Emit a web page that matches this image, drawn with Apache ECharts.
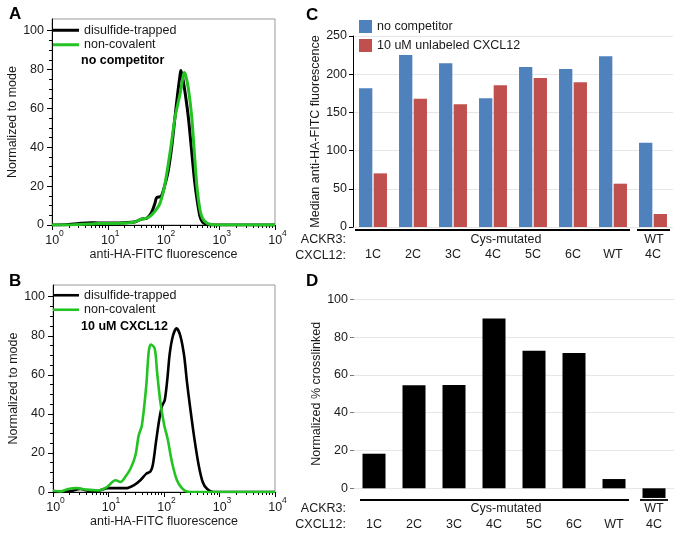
<!DOCTYPE html>
<html><head><meta charset="utf-8">
<script src="https://cdn.jsdelivr.net/npm/echarts@6/dist/echarts.min.js"></script>
<style>html,body{margin:0;padding:0;background:#fff}#c{width:683px;height:538px}</style>
</head><body><div id="c"></div>
<script>
// ---------- Panel A: histogram, no competitor ----------
const aBlackX = [1, 2, 3, 5, 7, 10, 15, 20, 30, 40, 50, 60, 70, 75, 85, 92, 100, 120, 140, 160, 180, 200, 205, 220, 250, 280, 320, 360, 400, 450, 500, 600, 700, 1000, 10000];
const aBlackY = [0, 0.3, 0.8, 1.2, 1.0, 1.0, 1.0, 1.2, 1.5, 3, 3.5, 6, 11, 14, 14.5, 15, 18, 27, 40, 55, 68, 78, 79.5, 76, 66, 55, 38, 23, 13, 4.5, 1.5, 0.3, 0, 0, 0];
const aGreenX = [1, 2, 3, 5, 7, 10, 15, 20, 30, 40, 50, 60, 70, 86, 106, 133, 160, 180, 200, 220, 235, 250, 280, 320, 360, 400, 450, 500, 600, 700, 800, 10000];
const aGreenY = [0, 0, 0.3, 0.5, 0.8, 0.8, 0.8, 1.0, 1.5, 3, 3.5, 5, 7, 11, 21, 38.5, 55, 62, 68, 75, 78.5, 77, 70, 56, 36, 19, 8, 3.5, 1, 0.3, 0, 0];
// ---------- Panel B: histogram, 10 uM CXCL12 ----------
const bBlackX = [1, 2, 3.1, 4.5, 6, 9.5, 13.4, 21.6, 28.5, 37.5, 48, 57, 63, 72, 82, 92, 103, 115, 127, 145, 168, 197, 230, 260, 300, 350, 420, 500, 600, 780, 1000, 10000];
const bBlackY = [0, 0.3, 1.5, 0.5, 0.3, 2.0, 2.0, 2.0, 3.4, 6, 9.4, 10.5, 14, 26, 37, 44, 47, 58, 71, 80, 83.8, 80, 70, 56, 42, 28, 14, 5, 1.5, 0, 0, 0];
const bGreenX = [1, 1.4, 1.8, 2.7, 4, 6.7, 9.5, 11.7, 13.4, 16.4, 20, 25, 30.6, 35, 40, 48, 53, 58, 68, 75, 86, 101, 116, 139, 171, 210, 258, 400, 10000];
const bGreenY = [0.8, 0.3, 1.4, 2, 1.2, 0.8, 2.6, 5.1, 6, 5.1, 7.7, 12, 18.8, 29, 34.2, 54.7, 71.8, 75.5, 73.5, 61.5, 46, 34.2, 27.4, 15.4, 6, 2, 0.3, 0, 0];
// ---------- axis ticks for histograms ----------
const logMajorTicks = [1, 10, 100, 1000, 10000];
const logMinorTicks = [2,3,4,5,6,7,8,9,20,30,40,50,60,70,80,90,200,300,400,500,600,700,800,900,2000,3000,4000,5000,6000,7000,8000,9000];
const histMajorY = [0, 20, 40, 60, 80, 100];
const histMinorY = [5, 10, 15, 25, 30, 35, 45, 50, 55, 65, 70, 75, 85, 90, 95];
// ---------- Panels C & D: bars ----------
const barCategories = ['1C', '2C', '3C', '4C', '5C', '6C', 'WT', '4C'];
const cNoCompetitor = [181.5, 225.1, 214.2, 168.4, 209.4, 206.8, 223.4, 110.4];
const cUnlabeled = [70.2, 168.0, 160.6, 185.4, 195.0, 189.4, 56.7, 17.0];
const dCrosslinked = [18.3, 54.5, 54.7, 89.8, 72.8, 71.6, 4.9, -5.1];

const FONT = '"Liberation Sans", Arial, sans-serif';
const TXT = '#1a1a1a';
const FS = 12.5;
const GREEN = '#22c322';

function zip(xs, ys) { return xs.map((x, i) => [x, ys[i]]); }

function histX(grid, nameGap) {
  return [{
    type: 'log', gridIndex: grid, min: 1, max: 10000, logBase: 10,
    name: 'anti-HA-FITC fluorescence', nameLocation: 'middle', nameGap: nameGap,
    nameTextStyle: {fontFamily: FONT, fontSize: FS, color: TXT},
    axisLine: {show: true, lineStyle: {color: '#000', width: 1}},
    axisTick: {show: true, length: 5, customValues: logMajorTicks, lineStyle: {color: '#000'}},
    axisLabel: {show: true, customValues: logMajorTicks, margin: 4,
      formatter: v => '{p|}{b|10}{s|' + Math.round(Math.log10(v)) + '}',
      rich: {
        p: {width: 5},
        b: {fontFamily: FONT, fontSize: FS, color: TXT, verticalAlign: 'bottom', lineHeight: 18},
        s: {fontFamily: FONT, fontSize: 8.5, color: TXT, verticalAlign: 'top', lineHeight: 18}
      }},
    splitLine: {show: false}
  }, {
    type: 'log', gridIndex: grid, min: 1, max: 10000, logBase: 10, position: 'bottom',
    axisLine: {show: false},
    axisTick: {show: true, length: 3, customValues: logMinorTicks, lineStyle: {color: '#000'}},
    axisLabel: {show: false},
    splitLine: {show: false}
  }];
}
function histY(grid) {
  return [{
    type: 'value', gridIndex: grid, min: 0, max: 106,
    name: 'Normalized to mode', nameLocation: 'middle', nameGap: 27,
    nameTextStyle: {fontFamily: FONT, fontSize: FS, color: TXT},
    axisLine: {show: true, lineStyle: {color: '#000', width: 1}},
    axisTick: {show: true, length: 5, customValues: histMajorY, lineStyle: {color: '#000'}},
    axisLabel: {show: true, customValues: histMajorY, margin: 8, fontFamily: FONT, fontSize: FS, color: TXT},
    splitLine: {show: false}
  }, {
    type: 'value', gridIndex: grid, min: 0, max: 106, position: 'left',
    axisLine: {show: false},
    axisTick: {show: true, length: 3, customValues: histMinorY, lineStyle: {color: '#000'}},
    axisLabel: {show: false},
    splitLine: {show: false}
  }];
}

const xAxes = [].concat(histX(0, 23), histX(1, 22), [
  {type: 'category', gridIndex: 2, data: barCategories,
   axisLine: {show: false}, axisTick: {show: false},
   axisLabel: {interval: 0, margin: 21, fontFamily: FONT, fontSize: FS, color: TXT}},
  {type: 'category', gridIndex: 3, data: barCategories,
   axisLine: {show: false}, axisTick: {show: false},
   axisLabel: {interval: 0, margin: 30, fontFamily: FONT, fontSize: FS, color: TXT}}
]);
const yAxes = [].concat(histY(0), histY(1), [
  {type: 'value', gridIndex: 2, min: 0, max: 250, interval: 50,
   name: 'Median anti-HA-FITC fluorescence', nameLocation: 'middle', nameGap: 26,
   nameTextStyle: {fontFamily: FONT, fontSize: FS, color: TXT},
   axisLine: {show: true, lineStyle: {color: '#000'}},
   axisTick: {show: true, length: 4, lineStyle: {color: '#000'}},
   axisLabel: {margin: 6, fontFamily: FONT, fontSize: FS, color: TXT},
   splitLine: {show: true, lineStyle: {color: '#e6e6e6'}}},
  {type: 'value', gridIndex: 3, min: 0, max: 100, interval: 20,
   name: 'Normalized % crosslinked', nameLocation: 'middle', nameGap: 27,
   nameTextStyle: {fontFamily: FONT, fontSize: FS, color: TXT},
   axisLine: {show: false},
   axisTick: {show: true, length: 4, lineStyle: {color: '#777'}},
   axisLabel: {margin: 6, fontFamily: FONT, fontSize: FS, color: TXT},
   splitLine: {show: true, lineStyle: {color: '#e6e6e6'}}}
]);

const txt = (text, x, y, align) => ({
  type: 'text', x: x, y: y, silent: true,
  style: {text: text, fill: TXT, font: FS + 'px ' + FONT, align: align || 'left', verticalAlign: 'middle'}
});
const bold = (text, x, y, size) => ({
  type: 'text', x: x, y: y, silent: true,
  style: {text: text, fill: '#000', font: 'bold ' + (size || FS) + 'px ' + FONT, align: 'left', verticalAlign: 'middle'}
});
const hline = (x1, x2, y) => ({type: 'line', silent: true, shape: {x1: x1, y1: y, x2: x2, y2: y}, style: {stroke: '#000', lineWidth: 1.8}});

const histLegend = (top, h) => ({
  data: [{name: 'disulfide-trapped', icon: 'rect'}, {name: 'non-covalent', icon: 'rect'}],
  orient: 'vertical', left: 53, top: top, padding: 0,
  itemWidth: 26, itemHeight: h, itemGap: 0, selectedMode: false,
  textStyle: {fontFamily: FONT, fontSize: FS, color: TXT, lineHeight: 14.5}
});

const option = {
  animation: false,
  backgroundColor: '#fff',
  textStyle: {fontFamily: FONT},
  grid: [
    {left: 52, top: 19, width: 223, height: 206, show: true, borderColor: '#999', borderWidth: 1, backgroundColor: 'transparent'},
    {left: 53, top: 285, width: 222, height: 207, show: true, borderColor: '#999', borderWidth: 1, backgroundColor: 'transparent'},
    {left: 353, top: 36, width: 320, height: 191},
    {left: 354, top: 299.3, width: 320, height: 189}
  ],
  xAxis: xAxes,
  yAxis: yAxes,
  legend: [
    histLegend(23, 3),
    histLegend(288, 2.6),
    {data: ['no competitor', '10 uM unlabeled CXCL12'], orient: 'vertical', left: 359, top: 20, padding: 0,
     itemWidth: 13, itemHeight: 13, itemGap: 6, icon: 'rect', selectedMode: false,
     textStyle: {fontFamily: FONT, fontSize: FS, color: TXT}}
  ],
  series: [
    {name: 'disulfide-trapped', type: 'line', xAxisIndex: 0, yAxisIndex: 0, data: zip(aBlackX, aBlackY),
     showSymbol: false, symbol: 'none', smooth: 0.3, color: '#000', lineStyle: {color: '#000', width: 3}},
    {name: 'non-covalent', type: 'line', xAxisIndex: 0, yAxisIndex: 0, data: zip(aGreenX, aGreenY),
     showSymbol: false, symbol: 'none', smooth: 0.3, color: GREEN, lineStyle: {color: GREEN, width: 3}},
    {name: 'disulfide-trapped', type: 'line', xAxisIndex: 2, yAxisIndex: 2, data: zip(bBlackX, bBlackY),
     showSymbol: false, symbol: 'none', smooth: 0.3, color: '#000', lineStyle: {color: '#000', width: 2.6}},
    {name: 'non-covalent', type: 'line', xAxisIndex: 2, yAxisIndex: 2, data: zip(bGreenX, bGreenY),
     showSymbol: false, symbol: 'none', smooth: 0.3, color: GREEN, lineStyle: {color: GREEN, width: 2.6}},
    {name: 'no competitor', type: 'bar', xAxisIndex: 4, yAxisIndex: 4, data: cNoCompetitor,
     barWidth: 13.3, barGap: '10%', color: '#4f81bd', itemStyle: {color: '#4f81bd'}},
    {name: '10 uM unlabeled CXCL12', type: 'bar', xAxisIndex: 4, yAxisIndex: 4, data: cUnlabeled,
     barWidth: 13.3, barGap: '10%', color: '#c0504d', itemStyle: {color: '#c0504d'}},
    {name: 'crosslinked', type: 'bar', xAxisIndex: 5, yAxisIndex: 5, data: dCrosslinked,
     barWidth: 23, clip: false, itemStyle: {color: '#000'}}
  ],
  graphic: [
    bold('A', 9, 14, 17), bold('B', 9, 281, 17), bold('C', 306, 15, 17), bold('D', 306, 281, 17),
    bold('no competitor', 81, 61), bold('10 uM CXCL12', 81, 327),
    // panel C category group labels
    txt('ACKR3:', 346, 240, 'right'), txt('CXCL12:', 346, 256, 'right'),
    txt('Cys-mutated', 506, 240, 'center'), txt('WT', 654, 240, 'center'),
    hline(355, 630, 230), hline(637, 670, 230),
    // panel D category group labels
    txt('ACKR3:', 346, 509, 'right'), txt('CXCL12:', 346, 525, 'right'),
    txt('Cys-mutated', 506, 509, 'center'), txt('WT', 654, 509, 'center'),
    hline(360, 629, 500), hline(640, 668, 500)
  ]
};

const chart = echarts.init(document.getElementById('c'), null, {renderer: 'canvas'});
chart.setOption(option);
</script>
</body></html>
